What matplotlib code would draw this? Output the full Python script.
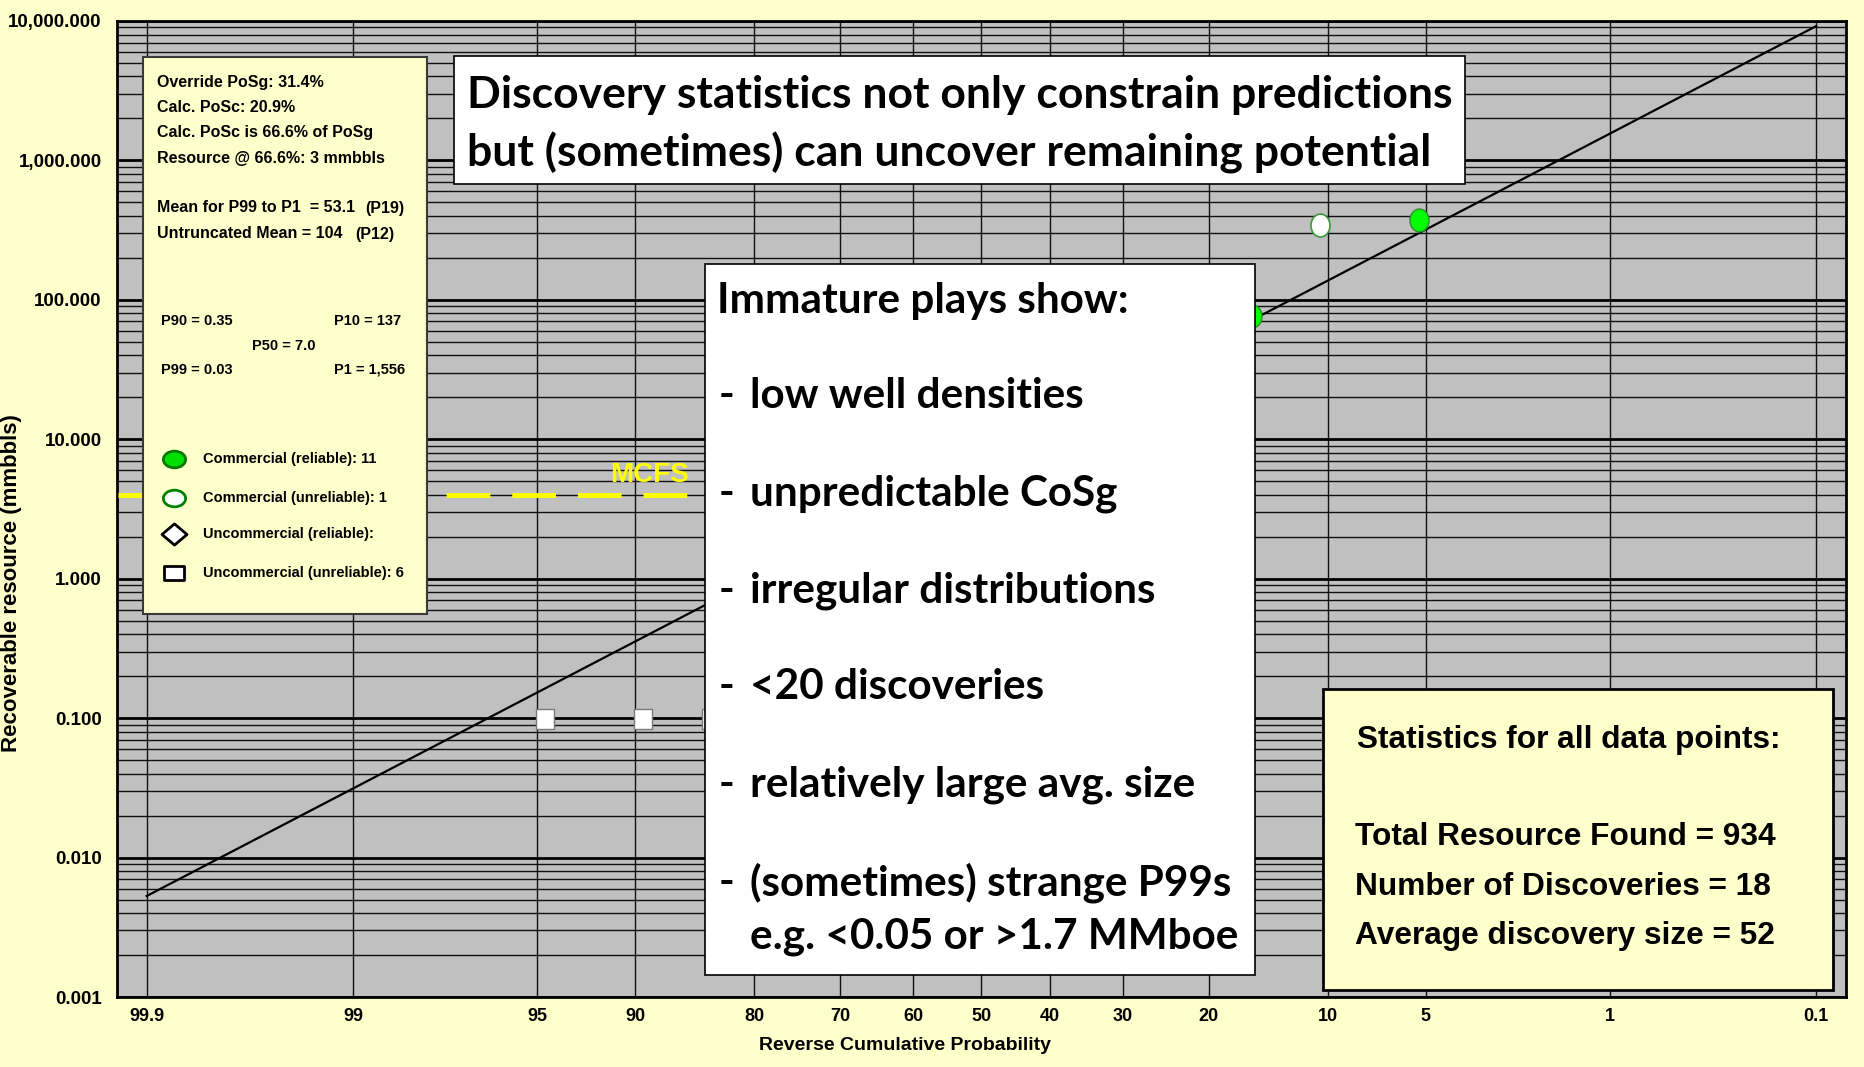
import math
from statistics import NormalDist

import numpy as np
import matplotlib
matplotlib.use("Agg")
import matplotlib.pyplot as plt
from matplotlib import font_manager
from matplotlib.path import Path
from matplotlib.patches import Rectangle
from matplotlib.lines import Line2D
from matplotlib.transforms import Affine2D
from matplotlib.ticker import FixedLocator, FuncFormatter, LogLocator, NullFormatter, NullLocator

# ---- values ----
prob_ticks = [99.9, 99, 95, 90, 80, 70, 60, 50, 40, 30, 20, 10, 5, 1, 0.1]
prob_tick_labels = ['99.9', '99', '95', '90', '80', '70', '60', '50', '40', '30', '20', '10', '5', '1', '0.1']
value_ticks = [0.001, 0.01, 0.1, 1, 10, 100, 1000, 10000]

fit_prob = [99.9, 0.1]              # lognormal fit line (P50 = 7.0)
fit_value = [0.0053, 9200]

comm_rel_prob = [5.26, 15.8]        # Commercial (reliable), visible ones
comm_rel_value = [373, 76]
comm_unrel_prob = [10.5]            # Commercial (unreliable)
comm_unrel_value = [344]
uncomm_unrel_prob = [94.7, 89.5, 84.2]   # Uncommercial (unreliable)
uncomm_unrel_value = [0.098, 0.098, 0.098]

mcfs_prob = [99.93, 50]
mcfs_value = [4.0, 4.0]

info_lines = ['Override PoSg: 31.4%', 'Calc. PoSc: 20.9%', 'Calc. PoSc is 66.6% of PoSg',
              'Resource @ 66.6%: 3 mmbbls', 'Mean for P99 to P1  = 53.1',
              'Untruncated Mean = 104']
info_percentiles = ['(P19)', '(P12)']
pvals_left = ['P90 = 0.35', 'P99 = 0.03']
pvals_right = ['P10 = 137', 'P1 = 1,556']
pval_mid = 'P50 = 7.0'
legend_labels = ['Commercial (reliable): 11', 'Commercial (unreliable): 1',
                 'Uncommercial (reliable):', 'Uncommercial (unreliable): 6']

title_lines = ['Discovery statistics not only constrain predictions',
               'but (sometimes) can uncover remaining potential']
immature_header = 'Immature plays show:'
immature_items = ['low well densities', 'unpredictable CoSg', 'irregular distributions',
                  '<20 discoveries', 'relatively large avg. size', '(sometimes) strange P99s']
immature_last = 'e.g. <0.05 or >1.7 MMboe'
stats_header = 'Statistics for all data points:'
stats_lines = ['Total Resource Found = 934', 'Number of Discoveries = 18', 'Average discovery size = 52']

# ---- fonts ----
names = {f.name for f in font_manager.fontManager.ttflist}
ARIAL = 'Liberation Sans'
NARROW = 'Liberation Sans Narrow' if 'Liberation Sans Narrow' in names else ARIAL
CALIBRI = 'Lato' if 'Lato' in names else 'DejaVu Sans'

W, H = 1865, 1067
BG = '#FFFFCC'


def fx(x):
    return x / W


def fy(y):
    return 1 - y / H


# probability (exceedance, %) <-> normal score
nd = NormalDist()


def prob_to_z(p):
    p = np.clip(np.asarray(p, dtype=float), 1e-7, 100 - 1e-7)
    return np.vectorize(lambda v: nd.inv_cdf(v / 100.0), otypes=[float])(p)


def z_to_prob(z):
    return np.vectorize(lambda v: 50.0 * math.erfc(-v / math.sqrt(2)), otypes=[float])(np.asarray(z, dtype=float))


fig = plt.figure(figsize=(W / 100, H / 100), dpi=100, facecolor=BG)
ax = fig.add_axes([fx(117), fy(997), (1846 - 117) / W, (997 - 21) / H])
ax.set_facecolor('#C0C0C0')

ax.set_xscale('function', functions=(prob_to_z, z_to_prob))
ax.set_yscale('log')
ax.set_xlim(99.9313, 0.0687)   # reversed: high probability on the left
ax.set_ylim(0.001, 10000)

ax.xaxis.set_major_locator(FixedLocator(prob_ticks))
ax.xaxis.set_major_formatter(FuncFormatter(lambda v, pos: prob_tick_labels[pos] if pos is not None and pos < len(prob_tick_labels) else ''))
ax.xaxis.set_minor_locator(NullLocator())
ax.yaxis.set_major_locator(FixedLocator(value_ticks))
ax.yaxis.set_major_formatter(FuncFormatter(lambda v, pos: f'{v:,.3f}'))
ax.yaxis.set_minor_locator(LogLocator(base=10, subs=np.arange(2, 10)))
ax.yaxis.set_minor_formatter(NullFormatter())

ax.grid(True, axis='x', which='major', color='#111111', lw=1.0)
ax.grid(True, axis='y', which='major', color='black', lw=2.0)
ax.grid(True, axis='y', which='minor', color='#111111', lw=1.0)
ax.set_axisbelow(True)
ax.tick_params(which='both', length=0)
ax.tick_params(axis='x', pad=8)
ax.tick_params(axis='y', pad=11)
for lab in ax.get_xticklabels():
    lab.set_fontfamily(NARROW)
    lab.set_fontweight('bold')
    lab.set_fontsize(13)
for lab in ax.get_yticklabels():
    lab.set_fontfamily(ARIAL)
    lab.set_fontweight('bold')
    lab.set_fontsize(13.5)
for s in ax.spines.values():
    s.set_linewidth(2.0)
    s.set_color('black')

ax.set_xlabel('Reverse Cumulative Probability', family=NARROW, fontweight='bold', fontsize=14)
ax.xaxis.label.set_va('center')
ax.xaxis.set_label_coords((905 - 117) / 1729, (997 - 1045) / 976)
ax.set_ylabel('Recoverable resource (mmbbls)', family=ARIAL, fontweight='bold', fontsize=16)
ax.yaxis.label.set_va('center')
ax.yaxis.set_label_coords((12 - 117) / 1729, (997 - 583) / 976)

# data
ax.plot(fit_prob, fit_value, color='black', lw=1.6, zorder=3)
ax.plot(mcfs_prob, mcfs_value, color='#FFFF00', lw=3.5, dashes=(9, 4.5), zorder=3)

tall_ellipse = Path.unit_circle().transformed(Affine2D().scale(0.83, 1.0))
wide_ellipse = Path.unit_circle().transformed(Affine2D().scale(1.0, 0.75))
tall_rect = Path.unit_rectangle().transformed(Affine2D().translate(-0.5, -0.5).scale(0.85, 1.0))
wide_rect = Path.unit_rectangle().transformed(Affine2D().translate(-0.5, -0.5).scale(1.0, 0.72))
diamond = Path([(0, 1), (1, 0), (0, -1), (-1, 0), (0, 1)], closed=True).transformed(Affine2D().scale(1.0, 0.85))

ax.plot(comm_rel_prob, comm_rel_value, ls='none', marker=tall_ellipse, ms=16.5,
        mfc='#00FF00', mec='#2E8B2E', mew=1.0, zorder=4)
ax.plot(comm_unrel_prob, comm_unrel_value, ls='none', marker=tall_ellipse, ms=16.5,
        mfc='white', mec='#3C9A3C', mew=1.2, zorder=4)
ax.plot(uncomm_unrel_prob, uncomm_unrel_value, ls='none', marker=tall_rect, ms=14.5,
        mfc='white', mec='#7a7a7a', mew=1.0, zorder=4)

fig.text(fx(610), fy(475), 'MCFS', color='#FFFF00', family=ARIAL, fontweight='bold',
         fontsize=20, ha='left', va='center', zorder=3)


# ---- overlay boxes ----
def box(x0, y0, x1, y1, fc, ec, lw):
    fig.add_artist(Rectangle((fx(x0), fy(y1)), fx(x1) - fx(x0), fy(y0) - fy(y1),
                             transform=fig.transFigure, fc=fc, ec=ec, lw=lw, zorder=5))


def txt(x, y, s, family, size=12, ha='left'):
    return fig.text(fx(x), fy(y), s, family=family, fontweight='bold', fontsize=size,
                    ha=ha, va='center', color='black', zorder=6)


renderer = fig.canvas.get_renderer()


def fit(t, target, dim='width'):
    bb = t.get_window_extent(renderer)
    cur = bb.width if dim == 'width' else bb.height
    t.set_fontsize(t.get_fontsize() * target / cur)
    return t.get_fontsize()


box(143, 57, 427, 614, BG, '#3a3a3a', 1.5)
box(454, 56, 1465, 184, 'white', 'black', 1.2)
box(705, 264, 1255, 975, 'white', 'black', 1.2)
box(1323, 689, 1833, 990, BG, 'black', 2.0)

# legend / info box
info_y = [82, 107, 132, 158, 208, 234]
info = [txt(157, y, s, NARROW) for y, s in zip(info_y, info_lines)]
info += [txt(365, 208, info_percentiles[0], NARROW), txt(355, 234, info_percentiles[1], NARROW)]
size = fit(info[0], 166)
for t in info:
    t.set_fontsize(size)

pv = [txt(161, 321, pvals_left[0], NARROW), txt(161, 370, pvals_left[1], NARROW),
      txt(334, 321, pvals_right[0], NARROW), txt(334, 370, pvals_right[1], NARROW),
      txt(252, 346, pval_mid, NARROW)]
size = fit(pv[3], 71)
for t in pv:
    t.set_fontsize(size)

leg_y = [459, 498, 534, 573]
leg = [txt(203, y, s, NARROW) for y, s in zip(leg_y, legend_labels)]
size = fit(leg[0], 173)
for t in leg:
    t.set_fontsize(size)

leg_styles = [dict(marker=wide_ellipse, ms=16, mfc='#00E000', mec='#007A00', mew=2.0),
              dict(marker=wide_ellipse, ms=16, mfc='white', mec='#008000', mew=2.0),
              dict(marker=diamond, ms=18, mfc='white', mec='black', mew=2.0),
              dict(marker=wide_rect, ms=14, mfc='white', mec='black', mew=2.0)]
for y, st in zip(leg_y, leg_styles):
    fig.add_artist(Line2D([fx(174)], [fy(y)], transform=fig.transFigure, ls='none', zorder=6, **st))

# title box
tl = [txt(467, 95, title_lines[0], CALIBRI), txt(467, 153, title_lines[1], CALIBRI)]
size = fit(tl[0], 979)
tl[1].set_fontsize(size)

# immature plays box
last = txt(750, 937, immature_last, CALIBRI)
size = fit(last, 486)
txt(717, 301, immature_header, CALIBRI, size)
for y, s in zip([396, 494, 591, 687, 785, 883], immature_items):
    txt(719, y, '-', CALIBRI, size)
    txt(750, y, s, CALIBRI, size)

# statistics box
sh = txt(1357, 740, stats_header, ARIAL)
size = fit(sh, 422)
for y, s in zip([837, 887, 936], stats_lines):
    txt(1355, y, s, ARIAL, size)

fig.savefig('out.png', dpi=100, facecolor=BG)
